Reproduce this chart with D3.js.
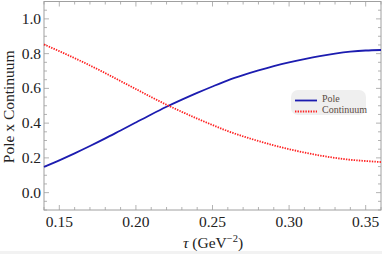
<!DOCTYPE html>
<html>
<head>
<meta charset="utf-8">
<script src="https://cdn.jsdelivr.net/npm/d3@7"></script>
<style>
  html, body { margin: 0; padding: 0; background: #fff; }
  svg { display: block; }
  text { font-family: "Liberation Serif", "DejaVu Serif", serif; fill: #222; }
</style>
</head>
<body>
<svg id="chart" width="382" height="254"></svg>
<script>
const tau = [0.14, 0.15, 0.16, 0.17, 0.18, 0.19, 0.20, 0.21, 0.22, 0.23, 0.24, 0.25,
             0.26, 0.27, 0.28, 0.29, 0.30, 0.31, 0.32, 0.33, 0.34, 0.35, 0.36];
const pole = [0.148, 0.186, 0.226, 0.268, 0.312, 0.358, 0.404, 0.450, 0.494, 0.535, 0.574, 0.611,
              0.646, 0.676, 0.703, 0.728, 0.750, 0.769, 0.786, 0.800, 0.811, 0.818, 0.821];
const continuum = [0.853, 0.814, 0.774, 0.732, 0.688, 0.642, 0.596, 0.550, 0.506, 0.465, 0.426, 0.389,
                   0.354, 0.324, 0.297, 0.272, 0.250, 0.231, 0.214, 0.200, 0.189, 0.182, 0.176];
const xTicks = [0.15, 0.20, 0.25, 0.30, 0.35];
const yTicks = [0.0, 0.2, 0.4, 0.6, 0.8, 1.0];
const seriesNames = ["Pole", "Continuum"];

const margin = { left: 44, right: 1, top: 1.5, bottom: 44 };
const width = 382, height = 254;

const svg = d3.select("#chart");

const x = d3.scaleLinear().domain([0.14, 0.36]).range([margin.left, width - margin.right]);
const y = d3.scaleLinear().domain([-0.1, 1.1]).range([height - margin.bottom, margin.top]);

// faint strip at the bottom edge, like the export
svg.append("rect").attr("x", 0).attr("y", 251).attr("width", width).attr("height", 3).attr("fill", "#f2f2f2");

const frameColor = "#a0a0a0";
const x0 = x.range()[0], x1 = x.range()[1], y0 = y.range()[0], y1 = y.range()[1];

// minor + major ticks on all four sides (pointing inward)
const xMinor = d3.range(0.14, 0.3601, 0.01).map((d) => +d.toFixed(2));
const yMinor = d3.range(-0.1, 1.1001, 0.05).map((d) => +d.toFixed(2));
const isMajorX = (d) => xTicks.some((t) => Math.abs(t - d) < 1e-6);
const isMajorY = (d) => yTicks.some((t) => Math.abs(t - d) < 1e-6);

const ticks = svg.append("g").attr("stroke", frameColor).attr("stroke-width", 0.8);
xMinor.forEach((d) => {
  const len = isMajorX(d) ? 5 : 3;
  ticks.append("line").attr("x1", x(d)).attr("x2", x(d)).attr("y1", y0).attr("y2", y0 - len);
  ticks.append("line").attr("x1", x(d)).attr("x2", x(d)).attr("y1", y1).attr("y2", y1 + len);
});
yMinor.forEach((d) => {
  const len = isMajorY(d) ? 5 : 3;
  ticks.append("line").attr("y1", y(d)).attr("y2", y(d)).attr("x1", x0).attr("x2", x0 + len);
  ticks.append("line").attr("y1", y(d)).attr("y2", y(d)).attr("x1", x1).attr("x2", x1 - len);
});

svg.append("rect")
  .attr("x", x0).attr("y", y1)
  .attr("width", x1 - x0).attr("height", y0 - y1)
  .attr("fill", "none").attr("stroke", frameColor).attr("stroke-width", 1);

// tick labels
svg.append("g").selectAll("text").data(xTicks).join("text")
  .attr("x", (d) => x(d)).attr("y", y0 + 17)
  .attr("text-anchor", "middle").attr("font-size", 15.5)
  .text(d3.format(".2f"));

svg.append("g").selectAll("text").data(yTicks).join("text")
  .attr("x", x0 - 3).attr("y", (d) => y(d) + 5)
  .attr("text-anchor", "end").attr("font-size", 15.5)
  .text(d3.format(".1f"));

// axis titles
svg.append("text")
  .attr("transform", `translate(14, ${(y0 + y1) / 2 + 1}) rotate(-90)`)
  .attr("text-anchor", "middle").attr("font-size", 15.5)
  .text("Pole x Continuum");

const xt = svg.append("text")
  .attr("x", 213).attr("y", 248)
  .attr("text-anchor", "middle").attr("font-size", 15.5);
xt.append("tspan").attr("font-style", "italic").text("τ");
xt.append("tspan").text(" (GeV");
xt.append("tspan").attr("font-size", 10.5).attr("dy", -6).text("−2");
xt.append("tspan").attr("dy", 6).text(")");

// curves
const line = d3.line().x((d) => x(d[0])).y((d) => y(d[1])).curve(d3.curveMonotoneX);
const plot = svg.append("g");
plot.append("path")
  .datum(d3.zip(tau, pole))
  .attr("d", line)
  .attr("fill", "none").attr("stroke", "#1c1cb0").attr("stroke-width", 1.8);
plot.append("path")
  .datum(d3.zip(tau, continuum))
  .attr("d", line)
  .attr("fill", "none").attr("stroke", "#ff2020").attr("stroke-width", 1.8)
  .attr("stroke-dasharray", "1.4 1.2");

// legend
const legend = svg.append("g").attr("transform", "translate(291, 90)");
legend.append("rect")
  .attr("width", 75).attr("height", 25).attr("rx", 7)
  .attr("fill", "#efefef");
const legendStyles = [
  { stroke: "#1c1cb0", dash: null },
  { stroke: "#ff2020", dash: "1.4 1.2" },
];
seriesNames.forEach((name, i) => {
  const ly = 10.5 + i * 11;
  legend.append("line")
    .attr("x1", 4).attr("x2", 26).attr("y1", ly).attr("y2", ly)
    .attr("stroke", legendStyles[i].stroke).attr("stroke-width", 1.8)
    .attr("stroke-dasharray", legendStyles[i].dash);
  legend.append("text")
    .attr("x", 31).attr("y", ly + 1.5).attr("font-size", 10)
    .style("fill", "#5a4c44")
    .text(name);
});
</script>
</body>
</html>
